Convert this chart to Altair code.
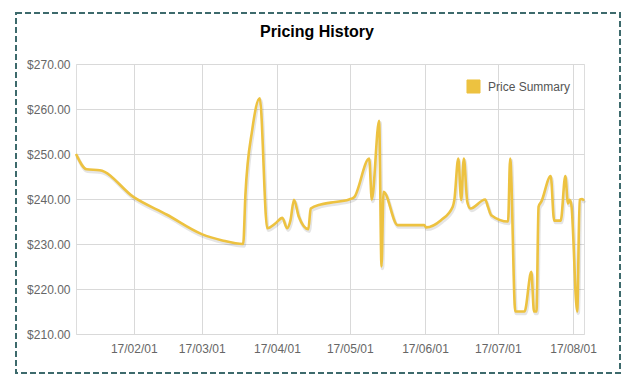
import altair as alt
import pandas as pd

dates = [
    "2017-01-08T05:00", "2017-01-12T14:00", "2017-01-18T00:00", "2017-02-01T00:00",
    "2017-02-14T17:00", "2017-03-01T00:00", "2017-03-09T12:00", "2017-03-18T02:00",
    "2017-03-19T00:00", "2017-03-21T19:00", "2017-03-24T22:00", "2017-03-28T00:00",
    "2017-03-31T10:00", "2017-04-03T05:00", "2017-04-05T05:00", "2017-04-06T14:00",
    "2017-04-08T00:00", "2017-04-10T00:00", "2017-04-13T22:00", "2017-04-14T22:00",
    "2017-04-19T00:00", "2017-04-23T02:00", "2017-04-30T17:00", "2017-05-02T19:00",
    "2017-05-09T00:00", "2017-05-10T02:00", "2017-05-13T02:00", "2017-05-14T02:00",
    "2017-05-14T22:00", "2017-05-20T17:00", "2017-05-30T07:00", "2017-05-31T17:00",
    "2017-06-01T10:00", "2017-06-07T14:00", "2017-06-12T10:00", "2017-06-13T02:00",
    "2017-06-14T17:00", "2017-06-15T22:00", "2017-06-17T00:00", "2017-06-18T10:00",
    "2017-06-19T17:00", "2017-06-25T19:00", "2017-06-26T22:00", "2017-06-28T07:00",
    "2017-07-05T05:00", "2017-07-06T02:00", "2017-07-08T05:00", "2017-07-12T00:00",
    "2017-07-14T19:00", "2017-07-15T22:00", "2017-07-16T22:00", "2017-07-17T19:00",
    "2017-07-18T22:00", "2017-07-22T19:00", "2017-07-24T05:00", "2017-07-26T22:00",
    "2017-07-28T19:00", "2017-07-29T22:00", "2017-07-30T14:00", "2017-07-31T07:00",
    "2017-08-02T17:00", "2017-08-03T17:00", "2017-08-04T17:00", "2017-08-05T12:00",
]
prices = [
    250.0, 246.6, 246.4, 240.4,
    236.5, 232.2, 230.8, 230.0,
    240.9, 255.3, 262.4, 233.5,
    234.6, 235.8, 233.5, 235.3,
    239.8, 236.1, 233.3, 237.9,
    238.8, 239.2, 239.9, 240.4,
    249.0, 239.9, 257.4, 225.0,
    241.6, 234.2, 234.2, 234.2,
    233.7, 235.3, 238.3, 239.8,
    249.0, 239.8, 249.0, 239.4,
    237.9, 239.9, 238.3, 236.4,
    235.0, 249.0, 215.0, 215.0,
    223.8, 215.0, 215.0, 238.3,
    239.4, 245.1, 235.2, 235.2,
    245.1, 239.0, 239.8, 238.7,
    215.0, 239.8, 240.0, 239.6,
]
series_name = "Price Summary"
title_text = "Pricing History"
y_ticks = [210, 220, 230, 240, 250, 260, 270]
x_tick_months = [2, 3, 4, 5, 6, 7, 8]

df = pd.DataFrame({"date": dates, "price": prices})
df["series"] = series_name

FONT = "Liberation Sans"
W, H = 508, 270

x_enc = alt.X(
    "date:T",
    scale=alt.Scale(nice=False),
    axis=alt.Axis(
        values=[alt.DateTime(year=2017, month=m, date=1) for m in x_tick_months],
        format="%y/%m/%d", title=None, domain=False, ticks=False,
        labelPadding=9, labelFontSize=12, labelFont=FONT, labelColor="#666666",
        gridColor="#d9d9d9", labelFlush=False,
    ),
)
y_enc = alt.Y(
    "price:Q",
    scale=alt.Scale(domain=[210, 270], nice=False, zero=False),
    axis=alt.Axis(
        values=y_ticks, format="$.2f", title=None, domain=False, ticks=False,
        labelPadding=6, labelFontSize=12, labelFont=FONT, labelColor="#666666",
        gridColor="#d9d9d9",
    ),
)

base = alt.Chart(df)

shadow = base.mark_line(
    interpolate="monotone", strokeWidth=3.5, color="#000000", opacity=0.1,
    xOffset=1, yOffset=2,
).encode(x=x_enc, y=y_enc)

line = base.mark_line(interpolate="monotone", strokeWidth=2.6).encode(
    x=x_enc,
    y=y_enc,
    color=alt.Color(
        "series:N",
        scale=alt.Scale(range=["#edc240"]),
        legend=alt.Legend(
            title=None, orient="none", legendX=390, legendY=15, padding=0,
            symbolType="square", symbolSize=170, symbolFillColor="#edc240",
            symbolStrokeColor="#cccccc", symbolStrokeWidth=1, symbolOpacity=1,
            labelFont=FONT, labelFontSize=12, labelColor="#545454", labelOffset=7,
        ),
    ),
)

one = pd.DataFrame({"t": [title_text]})
title = alt.Chart(one).mark_text(
    font=FONT, fontSize=16, fontWeight="bold", color="#000000",
    align="center", baseline="alphabetic",
).encode(text="t:N", x=alt.value(241), y=alt.value(-27))

border = alt.Chart(one).mark_rect(
    fill=None, fillOpacity=0, stroke="#3d6a6c", strokeWidth=2, strokeDash=[6, 3],
).encode(x=alt.value(-60), x2=alt.value(544), y=alt.value(-51), y2=alt.value(309))

chart = alt.layer(border, title, shadow, line).properties(
    width=W, height=H,
    autosize=alt.AutoSizeParams(type="none"),
    padding={"left": 68, "top": 56, "right": 37, "bottom": 41},
).configure_view(stroke=None).configure(background="white")

chart.save("out.html", embed_options={"renderer": "svg", "actions": False})
